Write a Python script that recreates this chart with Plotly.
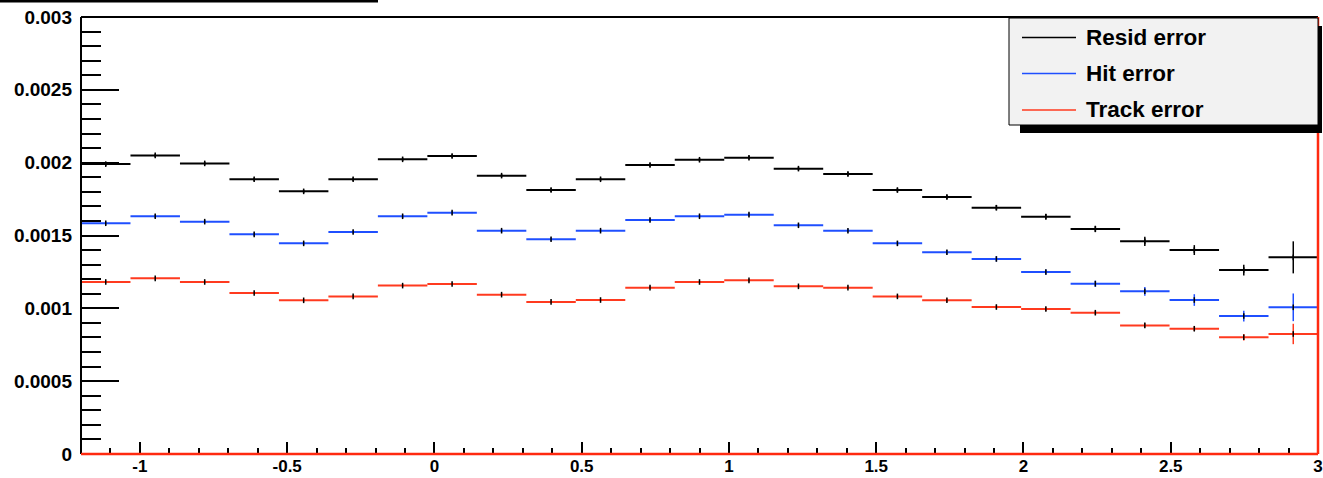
import numpy as np
import plotly.graph_objects as go

# ---------------- data ----------------
bin_lo, bin_hi, n_bins = -1.2, 3.0, 25

resid_err_vals = [0.00199, 0.00205, 0.001995, 0.001886, 0.001803, 0.001886, 0.002023,
                  0.002046, 0.001911, 0.001812, 0.001886, 0.001984, 0.00202, 0.002034,
                  0.001959, 0.001922, 0.001812, 0.001764, 0.001691, 0.001629, 0.001545,
                  0.00146, 0.0014, 0.001263, 0.00135]
resid_err_unc = [1.2e-5, 1.2e-5, 1.2e-5, 1.3e-5, 1.2e-5, 1.2e-5, 1.2e-5, 1.2e-5, 1.2e-5,
                 1.3e-5, 1.2e-5, 1.2e-5, 1.2e-5, 1.3e-5, 1.3e-5, 1.5e-5, 1.5e-5, 1.6e-5,
                 1.8e-5, 2.0e-5, 2.2e-5, 3.2e-5, 3.4e-5, 3.7e-5, 1.1e-4]

hit_err_vals = [0.001584, 0.001632, 0.001595, 0.001508, 0.001446, 0.001524, 0.001632,
                0.001657, 0.001533, 0.001474, 0.001533, 0.001606, 0.001632, 0.001643,
                0.00157, 0.001533, 0.001446, 0.001385, 0.001339, 0.001249, 0.001169,
                0.001117, 0.001057, 0.000947, 0.001007]
hit_err_unc = [1.2e-5, 1.2e-5, 1.2e-5, 1.2e-5, 1.2e-5, 1.2e-5, 1.2e-5, 1.2e-5, 1.2e-5,
               1.2e-5, 1.2e-5, 1.2e-5, 1.2e-5, 1.2e-5, 1.3e-5, 1.3e-5, 1.5e-5, 1.6e-5,
               1.8e-5, 1.8e-5, 2.2e-5, 3.0e-5, 4.0e-5, 3.7e-5, 9.5e-5]

track_err_vals = [0.001181, 0.001206, 0.001181, 0.001105, 0.001055, 0.001082, 0.001156,
                  0.001167, 0.001094, 0.001044, 0.001057, 0.001142, 0.001181, 0.001192,
                  0.001151, 0.001142, 0.001082, 0.001055, 0.001009, 0.000995, 0.00097,
                  0.000883, 0.00086, 0.000801, 0.000824]
track_err_unc = [0.9e-5, 0.9e-5, 0.9e-5, 0.9e-5, 0.9e-5, 0.9e-5, 0.9e-5, 0.9e-5, 0.9e-5,
                 0.9e-5, 0.9e-5, 0.9e-5, 0.9e-5, 0.9e-5, 0.9e-5, 1.0e-5, 1.1e-5, 1.2e-5,
                 1.2e-5, 1.3e-5, 1.3e-5, 1.5e-5, 1.6e-5, 2.2e-5, 7.0e-5]

series_names = ["Resid error", "Hit error", "Track error"]
series_colors = ["#000000", "#1f4fff", "#ff3a1f"]

y_tickvals = [0, 0.0005, 0.001, 0.0015, 0.002, 0.0025, 0.003]
y_ticktext = ["0", "0.0005", "0.001", "0.0015", "0.002", "0.0025", "0.003"]
x_tickvals = [-1, -0.5, 0, 0.5, 1, 1.5, 2, 2.5, 3]
x_ticktext = ["-1", "-0.5", "0", "0.5", "1", "1.5", "2", "2.5", "3"]

# ---------------- layout geometry (pixels) ----------------
W, H = 1323, 478
L, R, T, B = 81, 1318, 17, 454


def px(x):
    return (x - L) / (R - L)


def py(y):
    return (B - y) / (B - T)


bin_w = (bin_hi - bin_lo) / n_bins
centers = bin_lo + bin_w * (np.arange(n_bins) + 0.5)

fig = go.Figure()
for vals, unc, name, col in zip([resid_err_vals, hit_err_vals, track_err_vals],
                                [resid_err_unc, hit_err_unc, track_err_unc],
                                series_names, series_colors):
    fig.add_trace(go.Scatter(
        x=centers, y=vals, mode="markers", name=name, showlegend=False,
        marker=dict(symbol="line-ns", size=4, color="black",
                    line=dict(width=1.5, color="black")),
        error_x=dict(type="constant", value=bin_w / 2, width=0, thickness=2, color=col),
        error_y=dict(type="data", array=unc, width=0, thickness=1.5, color=col),
        cliponaxis=False,
    ))

shapes = []
# frame lines
shapes.append(dict(type="line", xref="paper", yref="paper", x0=0, x1=1, y0=1, y1=1,
                   line=dict(color="black", width=2), layer="above"))
shapes.append(dict(type="line", xref="paper", yref="paper", x0=0, x1=0, y0=0, y1=1,
                   line=dict(color="black", width=2), layer="above"))
shapes.append(dict(type="line", xref="paper", yref="paper", x0=0, x1=1, y0=0, y1=0,
                   line=dict(color="#ff2a10", width=2.5), layer="above"))
shapes.append(dict(type="line", xref="paper", yref="paper", x0=1, x1=1, y0=0, y1=1,
                   line=dict(color="#ff2a10", width=2.5), layer="above"))
# title remnant bar at top-left
shapes.append(dict(type="line", xref="paper", yref="paper", x0=px(0), x1=px(378),
                   y0=py(1), y1=py(1), line=dict(color="black", width=3), layer="above"))
# legend shadow + box
shapes.append(dict(type="rect", xref="paper", yref="paper", x0=px(1020), x1=px(1322),
                   y0=py(133), y1=py(26), fillcolor="black", line=dict(width=0),
                   layer="above"))
shapes.append(dict(type="rect", xref="paper", yref="paper", x0=px(1009), x1=px(1318),
                   y0=py(125), y1=py(18), fillcolor="#f2f2f2",
                   line=dict(color="black", width=1), layer="above"))

annotations = []
row_y = [37.5, 73.5, 110]
for name, col, yy in zip(series_names, series_colors, row_y):
    shapes.append(dict(type="line", xref="paper", yref="paper", x0=px(1022), x1=px(1076),
                       y0=py(yy), y1=py(yy), line=dict(color=col, width=1.5),
                       layer="above"))
    annotations.append(dict(xref="paper", yref="paper", x=px(1084), y=py(yy),
                            xanchor="left", yanchor="middle", showarrow=False,
                            text=name,
                            font=dict(family="Liberation Sans", size=22.5, color="black",
                                      weight="bold")))

fig.update_layout(
    width=W, height=H,
    margin=dict(l=L, r=W - R, t=T, b=H - B, pad=0, autoexpand=False),
    paper_bgcolor="white", plot_bgcolor="white",
    showlegend=False,
    font=dict(family="Liberation Sans", size=18, color="black", weight="bold"),
    shapes=shapes, annotations=annotations,
    xaxis=dict(range=[bin_lo, bin_hi], showgrid=False, zeroline=False, showline=False,
               automargin=False, ticklabeloverflow="allow",
               tickmode="array", tickvals=x_tickvals, ticktext=x_ticktext,
               ticks="inside", ticklen=12, tickwidth=1.5, tickcolor="black",
               ticklabelstandoff=0,
               minor=dict(ticks="inside", ticklen=6, tickwidth=1.5, tickcolor="black",
                          tick0=0, dtick=0.1, showgrid=False),
               tickfont=dict(family="Liberation Sans", size=17, weight="bold")),
    yaxis=dict(range=[0, 0.003], showgrid=False, zeroline=False, showline=False,
               automargin=False, ticklabeloverflow="allow",
               tickmode="array", tickvals=y_tickvals, ticktext=y_ticktext,
               ticks="inside", ticklen=38, tickwidth=1.5, tickcolor="black",
               ticklabelstandoff=8,
               minor=dict(ticks="inside", ticklen=20, tickwidth=1.5, tickcolor="black",
                          tick0=0, dtick=0.0001, showgrid=False),
               tickfont=dict(family="Liberation Sans", size=19, weight="bold")),
)

fig.write_html("out.html")
